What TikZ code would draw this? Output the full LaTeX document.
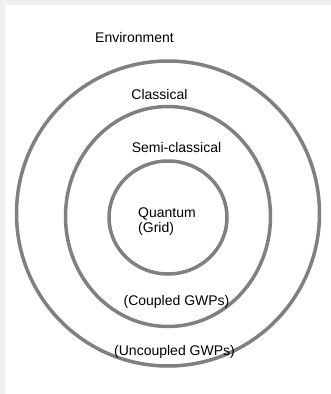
\documentclass[tikz,border=0pt]{standalone}
\usepackage{fontspec}
\setmainfont{Liberation Sans}
\definecolor{ringgray}{HTML}{808080}
\definecolor{framegray}{HTML}{F0F0F0}

\begin{document}
\begin{tikzpicture}[x=1pt, y=-1pt,
    ring/.style={draw=ringgray, line width=3.5pt},
    lbl/.style={font=\fontsize{14}{16}\selectfont, inner sep=0pt, anchor=base}]
    % Page with its grey frame on top and left
    \fill[framegray] (0,0) rectangle (331,394);
    \fill[white] (5,5) rectangle (331,394);
    \useasboundingbox (0,0) rectangle (331,394);

    % The three nested rings
    \draw[ring] (168,213.5) ellipse [x radius=151.5pt, y radius=152.5pt];
    \draw[ring] (168,216.5) ellipse [x radius=102.5pt, y radius=110pt];
    \draw[ring] (168,217.5) ellipse [x radius=59pt, y radius=56.5pt];

    % Labels
    \node[lbl] (env) at (134.5,42.5) {Environment};
    \node[lbl] (classical) at (159.5,99) {Classical};
    \node[lbl] (semi) at (176.5,152) {Semi-classical};
    \node[lbl, anchor=base west] (quantum) at (138,217) {Quantum};
    \node[lbl, anchor=base west] (grid) at ([yshift=-15pt]quantum.base west) {(Grid)};
    \node[lbl] (coupled) at (176.5,305) {(Coupled GWPs)};
    \node[lbl] (uncoupled) at (174.5,355) {(Uncoupled GWPs)};

\end{tikzpicture}
\end{document}
